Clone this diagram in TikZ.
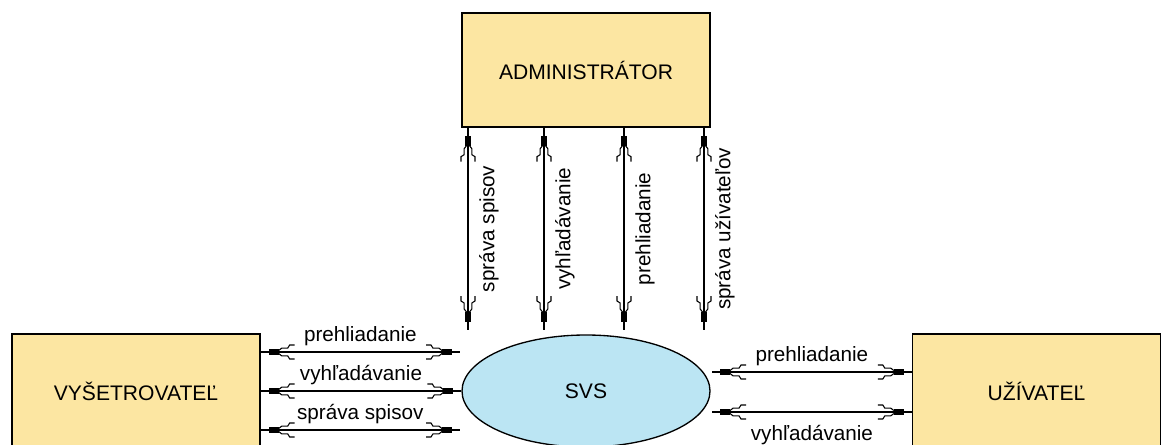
\documentclass[tikz,border=0pt]{standalone}
\usepackage{fontspec}
\setmainfont{Liberation Sans}
\usetikzlibrary{shapes.geometric,decorations.markings}
\definecolor{boxfill}{RGB}{252,230,162}
\definecolor{svsfill}{RGB}{187,229,243}
% arrow end ornament, drawn in px units (scaled by 0.75), pointing to +x
\newcommand\dfdtipshape{%
  \fill[black] (-10pt,-3pt) rectangle (0pt,3pt);
  \draw[line width=0.8pt]
    (-10pt,1.5pt) -- (-13pt,3.8pt) -- (-19pt,3.8pt) -- (-21pt,7pt) -- (-26pt,7pt)
    (-10pt,-1.5pt) -- (-13pt,-3.8pt) -- (-19pt,-3.8pt) -- (-21pt,-7pt) -- (-26pt,-7pt);
}
\tikzset{
  entity/.style={draw, line width=1pt, fill=boxfill, rectangle,
    minimum width=186pt, minimum height=85.5pt, inner sep=0pt,
    font=\fontsize{15.8}{18}\selectfont},
  svsnode/.style={draw, line width=1pt, fill=svsfill, ellipse,
    minimum width=186pt, minimum height=84pt, inner sep=0pt,
    font=\fontsize{15.8}{18}\selectfont},
  dfd/.style={draw, line width=0.9pt, postaction={decorate},
    decoration={markings,
      mark=at position 6pt with {\begin{scope}[scale=0.75,xscale=-1]\dfdtipshape\end{scope}},
      mark=at position -6pt with {\begin{scope}[scale=0.75]\dfdtipshape\end{scope}}}},
  lab/.style={font=\fontsize{15.5}{18}\selectfont, text height=11.1pt, text depth=3.3pt,
    inner xsep=0pt},
  labup/.style={lab, anchor=south, inner ysep=4.5pt},
  labdown/.style={lab, anchor=north, inner ysep=9.75pt},
  labvert/.style={lab, rotate=90, anchor=north, inner ysep=8.25pt},
}
\begin{document}
\begin{tikzpicture}[x=0.75pt,y=-0.75pt]
\clip (0,0) rectangle (1162,444);
\fill[white] (0,0) rectangle (1162,444);

\node[entity] (admin) at (586,70) {ADMINISTRÁTOR};
\node[entity] (vys) at (136,391) {VYŠETROVATEĽ};
\node[entity] (uziv) at (1036.5,391) {UŽÍVATEĽ};
\node[svsnode] (svs) at (586,391) {SVS};

% vertical connectors (administrator <-> SVS)
\coordinate (v1) at (468,330);
\coordinate (v2) at (544,330);
\coordinate (v3) at (624,330);
\coordinate (v4) at (704,330);
\draw[dfd] (admin.south -| v1) -- node[labvert] (t1) {správa spisov} (v1);
\draw[dfd] (admin.south -| v2) -- node[labvert] (t2) {vyhľadávanie} (v2);
\draw[dfd] (admin.south -| v3) -- node[labvert] (t3) {prehliadanie} (v3);
\draw[dfd] (admin.south -| v4) -- node[labvert] (t4) {správa užívateľov} (v4);

% left connectors (vyšetrovateľ <-> SVS)
\coordinate (h1) at (460,352);
\coordinate (h3) at (460,430);
\draw[dfd] (vys.east |- h1) -- node[labup] (t5) {prehliadanie} (h1);
\draw[dfd] (vys.east) -- node[labup] (t6) {vyhľadávanie} (svs.west);
\draw[dfd] (vys.east |- h3) -- node[labup] (t7) {správa spisov} (h3);

% right connectors (SVS <-> užívateľ)
\coordinate (r1) at (712,372);
\coordinate (r2) at (712,412);
\draw[dfd] (r1) -- node[labup] (t8) {prehliadanie} (uziv.west |- r1);
\draw[dfd] (r2) -- node[labdown] (t9) {vyhľadávanie} (uziv.west |- r2);
\end{tikzpicture}
\end{document}
